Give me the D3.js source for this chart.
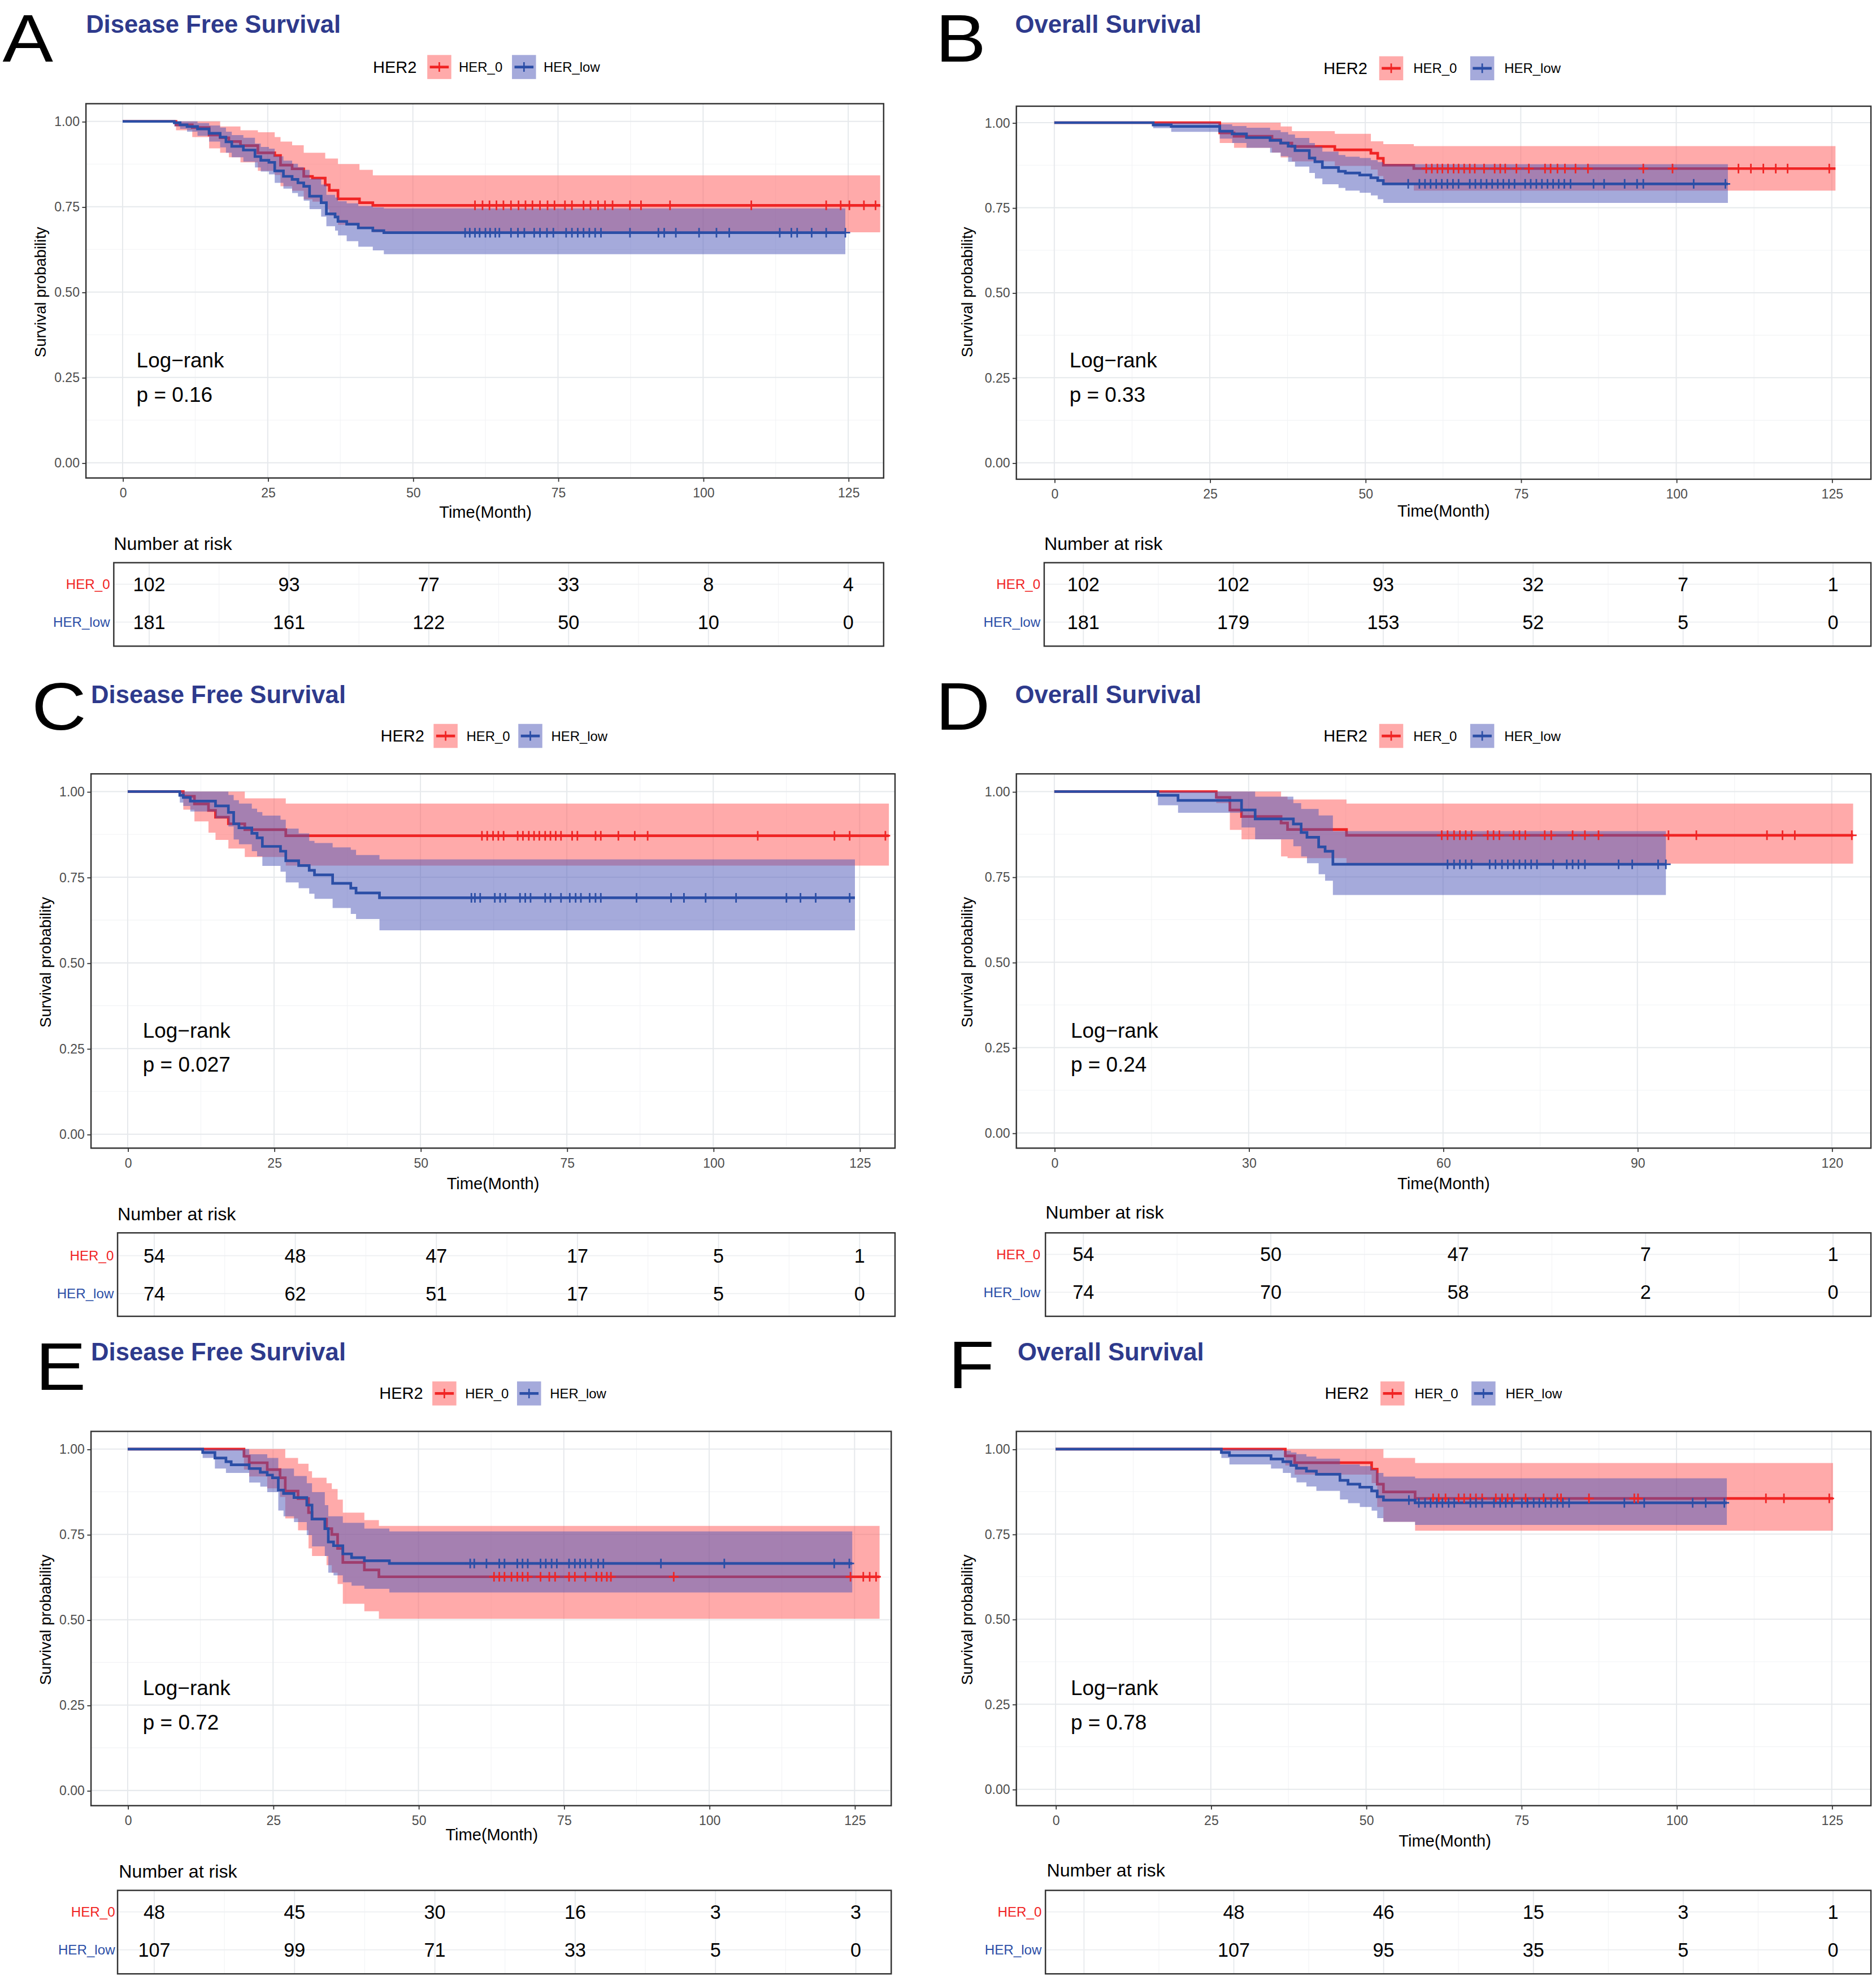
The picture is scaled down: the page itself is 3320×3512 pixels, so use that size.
<!DOCTYPE html>
<html><head><meta charset="utf-8">
<script src="https://cdn.jsdelivr.net/npm/d3@7"></script>
<style>body{margin:0;background:#fff}svg{display:block}</style>
</head><body>
<svg id="chart" width="3320" height="3512"></svg>
<script>
// ---------------- DATA ----------------
const panelLetters = ["A","B","C","D","E","F"];
const panelTitles = ["Disease Free Survival","Overall Survival","Disease Free Survival","Overall Survival","Disease Free Survival","Overall Survival"];
const pValues = ["0.16","0.33","0.027","0.24","0.72","0.78"];
const groupNames = ["HER_0","HER_low"];
const yTicks = [0,0.25,0.5,0.75,1];

const xTicks_A = [0,25,50,75,100,125];
const xTicks_B = [0,25,50,75,100,125];
const xTicks_C = [0,25,50,75,100,125];
const xTicks_D = [0,30,60,90,120];
const xTicks_E = [0,25,50,75,100,125];
const xTicks_F = [0,25,50,75,100,125];

const riskTimes_A = [0,25,50,75,100,125];
const riskHer0_A = [102,93,77,33,8,4];
const riskLow_A  = [181,161,122,50,10,0];
const riskTimes_B = [0,25,50,75,100,125];
const riskHer0_B = [102,102,93,32,7,1];
const riskLow_B  = [181,179,153,52,5,0];
const riskTimes_C = [0,25,50,75,100,125];
const riskHer0_C = [54,48,47,17,5,1];
const riskLow_C  = [74,62,51,17,5,0];
const riskTimes_D = [0,30,60,90,120];
const riskHer0_D = [54,50,47,7,1];
const riskLow_D  = [74,70,58,2,0];
const riskTimes_E = [0,25,50,75,100,125];
const riskHer0_E = [48,45,30,16,3,3];
const riskLow_E  = [107,99,71,33,5,0];
const riskTimes_F = [25,50,75,100,125];
const riskHer0_F = [48,46,15,3,1];
const riskLow_F  = [107,95,35,5,0];

// Kaplan-Meier steps: [time, survival, lower CI, upper CI]
const kmHer0_A = [[0,1,1,1],[9.2,0.99,0.974,1],[12,0.982,0.954,1],[14.9,0.96,0.921,1],[16.8,0.952,0.908,0.985],[18.3,0.941,0.895,0.985],[20.3,0.929,0.88,0.974],[23.3,0.908,0.855,0.968],[26.2,0.9,0.843,0.954],[27.2,0.872,0.81,0.941],[29.2,0.861,0.797,0.93],[31.2,0.839,0.772,0.908],[32.7,0.834,0.765,0.908],[34.9,0.814,0.742,0.891],[35.6,0.798,0.724,0.891],[37.1,0.773,0.697,0.875],[40.8,0.762,0.685,0.858],[43.1,0.754,0.675,0.842]];
const kmLow_A = [[0,1,1,1],[8.9,0.996,0.985,1],[9.9,0.99,0.978,1],[11.1,0.985,0.97,1],[12.9,0.978,0.958,0.995],[14.9,0.965,0.941,0.988],[16.8,0.954,0.924,0.982],[17.8,0.94,0.908,0.97],[18.8,0.927,0.895,0.96],[20.8,0.916,0.882,0.952],[22.8,0.897,0.865,0.935],[23.8,0.886,0.853,0.925],[25.2,0.88,0.845,0.92],[26.2,0.855,0.82,0.898],[27.7,0.839,0.803,0.885],[29.2,0.83,0.79,0.876],[30.2,0.82,0.78,0.866],[31.2,0.81,0.768,0.858],[32.2,0.781,0.743,0.832],[34.2,0.762,0.721,0.815],[35.1,0.729,0.693,0.785],[36.6,0.72,0.68,0.777],[37.1,0.707,0.666,0.766],[38.6,0.699,0.649,0.76],[40.6,0.688,0.633,0.752],[43.1,0.68,0.622,0.748],[45,0.674,0.611,0.745]];
const kmEnd_A = [130.5,124.5];
const censHer0_A = [60.7,62,63.2,64.4,65.6,66.9,68.2,69.4,70.6,71.9,73.2,74.4,76.2,77.4,79.4,80.6,81.9,83.1,84.4,87.4,89.3,94.3,108.3,121.2,123.7,125.2,127.7,129.7];
const censLow_A = [59,59.8,60.7,61.5,62.5,63.3,64.2,64.9,66.9,68.1,69.2,70.9,71.9,73.1,74.2,76.4,77.4,78.4,79.4,80.4,81.4,82.4,87.4,92.3,93.3,95.3,99.3,102.3,104.5,113.2,115.2,116.2,118.7,121.2,124.5];

const kmHer0_B = [[0,1,1,1],[26.6,0.97,0.94,1],[28.9,0.96,0.926,1],[35,0.95,0.912,1],[36.4,0.94,0.898,0.989],[38.2,0.93,0.886,0.975],[45.1,0.92,0.873,0.967],[50.9,0.91,0.862,0.945],[52,0.895,0.843,0.945],[52.9,0.875,0.82,0.937],[57.8,0.865,0.8,0.931]];
const kmLow_B = [[0,1,1,1],[15.9,0.993,0.984,1],[18.8,0.989,0.973,1],[26.6,0.975,0.953,0.995],[28.6,0.967,0.94,0.99],[30.9,0.956,0.926,0.985],[34.7,0.948,0.912,0.978],[36.4,0.94,0.901,0.972],[37.6,0.931,0.885,0.965],[38.7,0.918,0.871,0.955],[41,0.896,0.852,0.94],[41.9,0.885,0.836,0.93],[43.1,0.868,0.819,0.915],[45.7,0.857,0.808,0.905],[46.8,0.852,0.8,0.9],[49.1,0.846,0.794,0.896],[50.9,0.838,0.786,0.89],[52,0.83,0.775,0.884],[52.9,0.82,0.764,0.878]];
const kmEnd_B = [125.6,108.3];
const censHer0_B = [59.8,60.7,61.6,62.4,63.3,64.2,65,65.9,66.8,67.6,69.1,70.8,71.7,72.5,74.3,76.3,78.9,79.8,80.9,82.1,83.8,85.8,94.7,99.4,110,112,114,116,117.9,124.6];
const censLow_B = [56.9,58.7,59.6,60.5,61.4,62.3,63.2,64.1,65,66.8,67.7,68.6,69.5,70.4,71.3,72.2,73.1,74,75.7,76.6,77.5,78.4,79.3,80.2,81.1,82,83,86.7,88.4,91.7,93.7,94.7,102.8,107.9];

const kmHer0_C = [[0,1,1,1],[9.5,0.986,0.947,1],[11.4,0.964,0.913,1],[13.8,0.945,0.88,1],[15,0.925,0.859,1],[17.2,0.906,0.834,1],[20,0.889,0.809,0.98],[27,0.871,0.784,0.965]];
const kmLow_C = [[0,1,1,1],[8.9,0.989,0.968,1],[9.5,0.983,0.958,1],[10.7,0.972,0.942,1],[15,0.958,0.922,1],[17.2,0.939,0.898,0.99],[18.1,0.906,0.86,0.975],[19,0.894,0.846,0.965],[21.2,0.878,0.826,0.95],[22.1,0.865,0.811,0.94],[23,0.84,0.783,0.93],[26.1,0.826,0.766,0.918],[27,0.798,0.735,0.892],[29.2,0.784,0.718,0.878],[31,0.77,0.702,0.856],[31.9,0.757,0.687,0.85],[35,0.732,0.66,0.837],[38.1,0.718,0.643,0.83],[39,0.704,0.628,0.815],[43,0.69,0.595,0.802]];
const kmEnd_C = [130,124.2];
const censHer0_C = [60.5,61.4,62.4,63.3,64.2,66.6,67.5,68.5,69.4,70.3,71.3,72.2,73.1,74,75.9,76.8,79.9,80.8,83.8,86.6,88.8,107.6,120.7,123.3,129.4];
const censLow_C = [58.7,59.3,60.2,62.7,63.6,64.5,67,67.9,68.8,71.3,72.2,74,75.5,76.5,77.4,78.9,79.9,80.8,86.9,92.8,95,98.7,103.9,112.5,114.9,117.5,123.3];

const kmHer0_D = [[0,1,1,1],[25,0.983,0.966,1],[27.1,0.946,0.888,1],[28.9,0.927,0.86,1],[35,0.908,0.81,0.985],[36,0.889,0.805,0.977],[45.1,0.872,0.789,0.965]];
const kmLow_D = [[0,1,1,1],[16,0.989,0.96,1],[19.1,0.974,0.938,1],[28.9,0.946,0.895,1],[31,0.92,0.86,0.985],[36.9,0.905,0.84,0.966],[38.1,0.88,0.81,0.949],[39,0.866,0.79,0.949],[40.8,0.838,0.758,0.93],[41.8,0.825,0.739,0.93],[43,0.787,0.697,0.884]];
const kmEnd_D = [123.3,94.4];
const censHer0_D = [59.8,60.7,61.7,62.6,63.5,64.4,66.9,67.8,68.7,70.9,71.8,72.7,75.7,76.7,80,81.9,84,94.8,99.1,110,112.4,114.3,123.1];
const censLow_D = [60.7,61.7,62.6,63.5,64.4,67.2,68.1,69.1,70,70.9,71.8,72.7,73.6,74.5,77,79.1,80,80.9,81.9,87.1,89.2,93.2,94.4];

const kmHer0_E = [[0,1,1,1],[20,0.979,0.94,1],[20.9,0.96,0.92,1],[24,0.94,0.885,1],[26.2,0.916,0.86,1],[27.1,0.877,0.797,0.974],[29.3,0.855,0.762,0.957],[31.1,0.814,0.709,0.935],[31.7,0.795,0.687,0.916],[34.2,0.767,0.66,0.9],[35.1,0.75,0.638,0.883],[36.1,0.709,0.605,0.852],[37,0.668,0.547,0.814],[40.7,0.646,0.525,0.792],[43.2,0.626,0.503,0.775]];
const kmLow_E = [[0,1,1,1],[12.9,0.99,0.974,1],[15,0.974,0.943,1],[16.9,0.963,0.93,1],[17.8,0.954,0.93,1],[20.9,0.943,0.902,0.985],[22.8,0.932,0.89,0.985],[24,0.924,0.874,0.974],[24.9,0.916,0.874,0.974],[25.9,0.88,0.82,0.943],[26.8,0.87,0.803,0.943],[28.6,0.858,0.786,0.921],[30.8,0.836,0.748,0.9],[31.7,0.795,0.715,0.874],[33.9,0.767,0.687,0.836],[34.5,0.728,0.638,0.803],[35.4,0.717,0.63,0.803],[37,0.693,0.61,0.784],[38.5,0.682,0.6,0.784],[40.7,0.673,0.591,0.767],[45,0.665,0.58,0.759]];
const kmEnd_E = [129.3,124.6];
const censHer0_E = [63,63.9,64.8,66,67,67.9,68.8,71,72.5,73.5,75.9,76.9,78.7,80.6,81.5,82.4,83.1,93.9,124.3,126.5,127.6,128.7];
const censLow_E = [58.9,59.6,61.7,63.9,64.8,67,67.9,68.8,71,71.9,72.9,73.8,75.9,76.9,77.8,78.7,79.7,80.9,81.8,91.7,102.6,121.5,124.1];

const kmHer0_F = [[0,1,1,1],[37,0.98,0.952,1],[38.5,0.96,0.925,1],[50.9,0.941,0.9,1],[51.8,0.897,0.83,1],[52.8,0.874,0.786,0.974],[57.9,0.855,0.76,0.959]];
const kmLow_F = [[0,1,1,1],[26.7,0.99,0.974,1],[28,0.981,0.955,1],[34.7,0.971,0.943,1],[36.6,0.963,0.93,0.995],[37.9,0.952,0.916,0.99],[38.8,0.944,0.902,0.985],[40.4,0.935,0.89,0.978],[42,0.926,0.877,0.972],[45.8,0.908,0.852,0.955],[47.1,0.897,0.841,0.955],[49,0.888,0.83,0.95],[50.9,0.877,0.819,0.94],[51.8,0.86,0.797,0.93],[52.8,0.85,0.786,0.919],[57.9,0.842,0.777,0.914]];
const kmEnd_F = [125.2,108.1];
const censHer0_F = [60.8,61.7,62.8,64.9,65.8,66.8,67.7,68.7,70.9,71.9,72.8,73.8,75.7,78.6,80.8,81.4,85.9,93.2,93.8,114.4,117.3,124.6];
const censLow_F = [56.9,58.5,59.5,60.4,61.4,62.3,63.3,64.2,66.8,67.7,68.7,70.6,71.6,72.5,73.5,75.1,76,77,77.9,78.9,79.8,80.8,81.7,82.7,91.6,94.8,102.6,104.7,107.7];

const panelData = [
  {xTicks:xTicks_A, rt:riskTimes_A, r0:riskHer0_A, r1:riskLow_A, km0:kmHer0_A, km1:kmLow_A, end:kmEnd_A, c0:censHer0_A, c1:censLow_A},
  {xTicks:xTicks_B, rt:riskTimes_B, r0:riskHer0_B, r1:riskLow_B, km0:kmHer0_B, km1:kmLow_B, end:kmEnd_B, c0:censHer0_B, c1:censLow_B},
  {xTicks:xTicks_C, rt:riskTimes_C, r0:riskHer0_C, r1:riskLow_C, km0:kmHer0_C, km1:kmLow_C, end:kmEnd_C, c0:censHer0_C, c1:censLow_C},
  {xTicks:xTicks_D, rt:riskTimes_D, r0:riskHer0_D, r1:riskLow_D, km0:kmHer0_D, km1:kmLow_D, end:kmEnd_D, c0:censHer0_D, c1:censLow_D},
  {xTicks:xTicks_E, rt:riskTimes_E, r0:riskHer0_E, r1:riskLow_E, km0:kmHer0_E, km1:kmLow_E, end:kmEnd_E, c0:censHer0_E, c1:censLow_E},
  {xTicks:xTicks_F, rt:riskTimes_F, r0:riskHer0_F, r1:riskLow_F, km0:kmHer0_F, km1:kmLow_F, end:kmEnd_F, c0:censHer0_F, c1:censLow_F}
];

// ---------------- LAYOUT (reference units, scaled to canvas) ----------------
const layouts = [
 {letter:[2,48.5], title:[68,26], leg:{y:53,h2:295,k0:338,l0:363,k1:405,l1:430},
  box:[68,82,699,378], yt:[366,96], xt:[97,671], table:[90,445,699,511], tt:[118,671], rows:[462,492], rowX:87,
  nrisk:[90,430], xTitle:[384,405], yTitle:[32,231], lr:[108,285,312]},
 {letter:[740,48.5], title:[803,26], leg:{y:54,h2:1047,k0:1091,l0:1118,k1:1163,l1:1190},
  box:[804,84,1480,379], yt:[366,97], xt:[834,1449], table:[826,445,1480,511], tt:[857,1450], rows:[462,492], rowX:823,
  nrisk:[826,430], xTitle:[1142,404], yTitle:[765,231], lr:[846,285,312]},
 {letter:[25,577], title:[72,556], leg:{y:582,h2:301,k0:343,l0:369,k1:410,l1:436},
  box:[72,612,708,908], yt:[897,626], xt:[101,680], table:[93,975,708,1041], tt:[122,680], rows:[993,1023], rowX:90,
  nrisk:[93,960], xTitle:[390,936], yTitle:[36,761], lr:[113,815,842]},
 {letter:[740,577], title:[803,556], leg:{y:582,h2:1047,k0:1091,l0:1118,k1:1163,l1:1190},
  box:[804,612,1480,908], yt:[896,626], xt:[834,1449], table:[827,975,1480,1041], tt:[857,1450], rows:[992,1022], rowX:823,
  nrisk:[827,959], xTitle:[1142,936], yTitle:[765,761], lr:[847,815,842]},
 {letter:[28,1099], title:[72,1076], leg:{y:1102,h2:300,k0:342,l0:368,k1:409,l1:435},
  box:[72,1132,705,1428], yt:[1416,1146], xt:[101,676], table:[93,1495,705,1561], tt:[122,677], rows:[1512,1542], rowX:91,
  nrisk:[94,1480], xTitle:[389,1451], yTitle:[36,1281], lr:[113,1335,1362]},
 {letter:[750,1098], title:[805,1076], leg:{y:1102,h2:1048,k0:1092,l0:1119,k1:1164,l1:1191},
  box:[804,1132,1480,1428], yt:[1415,1146], xt:[835,1449], table:[827,1495,1480,1561], tt:[857.5,1450], rows:[1512,1542], rowX:824,
  nrisk:[828,1479], xTitle:[1143,1456], yTitle:[765,1281], lr:[847,1335,1362]}
];

const S = 3320/1484;
const FONT = "'Liberation Sans', Arial, Helvetica, sans-serif";
const LINE = ["#F02424","#2B4EA6"];
const FILL = ["#FF5555","#4B56B8"];
const FILL_OP = 0.5;
const TITLE_COL = "#2E3A8C";

const svg = d3.select("#chart");
svg.append("rect").attr("width",3320).attr("height",3512).attr("fill","#fff");
const root = svg.append("g").attr("transform",`scale(${S})`);

function stepAt(steps, t){ let v = steps[0]; for (const s of steps) if (s[0] <= t) v = s; return v; }
function plus(x, y, r){ return `M${x-r},${y}H${x+r}M${x},${y-r}V${y+r}`; }

function drawPanel(i){
  const L = layouts[i], D = panelData[i];
  const g = root.append("g");
  const txt = (x,y,s,size,opts={}) => g.append("text").attr("x",x).attr("y",y).text(s)
      .attr("font-family",FONT).attr("font-size",size)
      .attr("fill",opts.fill||"#000").attr("font-weight",opts.weight||"normal")
      .attr("text-anchor",opts.anchor||"start").attr("dominant-baseline",opts.base||"auto");

  g.append("g").attr("transform",`translate(${L.letter[0]},${L.letter[1]}) scale(1,0.885)`)
    .append("text").attr("x",0).attr("y",0).text(panelLetters[i])
    .attr("font-family",FONT).attr("font-size",60).attr("fill","#000");
  txt(L.title[0], L.title[1], panelTitles[i], 19.5, {weight:"bold", fill:TITLE_COL});

  // legend
  txt(L.leg.h2, L.leg.y, "HER2", 13, {base:"central"});
  [[L.leg.k0,L.leg.l0],[L.leg.k1,L.leg.l1]].forEach(([kx,lx],gi)=>{
    const ky = L.leg.y - 9.5;
    g.append("rect").attr("x",kx).attr("y",ky).attr("width",19).attr("height",19)
      .attr("fill",FILL[gi]).attr("fill-opacity",FILL_OP);
    g.append("line").attr("x1",kx+2).attr("x2",kx+17).attr("y1",L.leg.y).attr("y2",L.leg.y)
      .attr("stroke",LINE[gi]).attr("stroke-width",2.1);
    g.append("path").attr("d",plus(kx+9.5,L.leg.y,3.8)).attr("stroke",LINE[gi]).attr("stroke-width",1.2).attr("fill","none");
    txt(lx, L.leg.y, groupNames[gi], 10.7, {base:"central"});
  });

  // scales
  const [bx0,by0,bx1,by1] = L.box;
  const xMax = D.xTicks[D.xTicks.length-1];
  const x = d3.scaleLinear().domain([0,xMax]).range(L.xt);
  const y = d3.scaleLinear().domain([0,1]).range(L.yt);
  const step = D.xTicks[1]-D.xTicks[0];

  g.append("rect").attr("x",bx0).attr("y",by0).attr("width",bx1-bx0).attr("height",by1-by0).attr("fill","#fff");
  const xMinor = D.xTicks.map(t=>t+step/2).filter(t=>x(t)<bx1);
  const yMinor = [0.125,0.375,0.625,0.875];
  g.selectAll(null).data(xMinor).join("line").attr("x1",d=>x(d)).attr("x2",d=>x(d)).attr("y1",by0).attr("y2",by1)
    .attr("stroke","#F2F3F5").attr("stroke-width",0.5);
  g.selectAll(null).data(yMinor).join("line").attr("y1",d=>y(d)).attr("y2",d=>y(d)).attr("x1",bx0).attr("x2",bx1)
    .attr("stroke","#F2F3F5").attr("stroke-width",0.5);
  g.selectAll(null).data(D.xTicks).join("line").attr("x1",d=>x(d)).attr("x2",d=>x(d)).attr("y1",by0).attr("y2",by1)
    .attr("stroke","#E6E9EC").attr("stroke-width",0.9);
  g.selectAll(null).data(yTicks).join("line").attr("y1",d=>y(d)).attr("y2",d=>y(d)).attr("x1",bx0).attr("x2",bx1)
    .attr("stroke","#E6E9EC").attr("stroke-width",0.9);

  const clipId = "clip"+i;
  g.append("clipPath").attr("id",clipId).append("rect").attr("x",bx0).attr("y",by0).attr("width",bx1-bx0).attr("height",by1-by0);
  const plot = g.append("g").attr("clip-path",`url(#${clipId})`);

  const area = d3.area().curve(d3.curveStepAfter).x(d=>x(d[0])).y0(d=>y(d[2])).y1(d=>y(d[3]));
  const line = d3.line().curve(d3.curveStepAfter).x(d=>x(d[0])).y(d=>y(d[1]));
  const curves = [D.km0, D.km1];
  curves.forEach((km,gi)=>{
    const last = km[km.length-1];
    const pts = km.concat([[D.end[gi], last[1], last[2], last[3]]]);
    plot.append("path").attr("d",area(pts)).attr("fill",FILL[gi]).attr("fill-opacity",FILL_OP).attr("stroke","none");
    plot.append("path").attr("d",line(pts)).attr("fill","none").attr("stroke",LINE[gi]).attr("stroke-width",2.1);
  });
  [D.c0, D.c1].forEach((cens,gi)=>{
    plot.append("path").attr("d", cens.map(t=>plus(x(t), y(stepAt(curves[gi],t)[1]), 3.8)).join(""))
      .attr("stroke",LINE[gi]).attr("stroke-width",1.25).attr("fill","none");
  });

  g.append("rect").attr("x",bx0).attr("y",by0).attr("width",bx1-bx0).attr("height",by1-by0)
    .attr("fill","none").attr("stroke","#333").attr("stroke-width",1.1);

  // axes
  const ay = g.append("g").attr("transform",`translate(${bx0},0)`)
    .call(d3.axisLeft(y).tickValues(yTicks).tickFormat(d3.format(".2f")).tickSize(3).tickPadding(2));
  const ax = g.append("g").attr("transform",`translate(0,${by1})`)
    .call(d3.axisBottom(x).tickValues(D.xTicks).tickFormat(d3.format("d")).tickSize(3).tickPadding(5));
  [ax,ay].forEach(a=>{
    a.select(".domain").remove();
    a.selectAll(".tick line").attr("stroke","#333").attr("stroke-width",0.8);
    a.selectAll(".tick text").attr("font-family",FONT).attr("font-size",10.3).attr("fill","#4D4D4D");
  });

  txt(L.xTitle[0], L.xTitle[1], "Time(Month)", 13, {anchor:"middle", base:"central"});
  g.append("text").attr("transform",`translate(${L.yTitle[0]},${L.yTitle[1]}) rotate(-90)`)
    .text("Survival probability").attr("font-family",FONT).attr("font-size",12.3)
    .attr("text-anchor","middle").attr("dominant-baseline","central");

  txt(L.lr[0], L.lr[1], "Log\u2212rank", 16.5, {base:"central"});
  txt(L.lr[0], L.lr[2], "p = " + pValues[i], 16.5, {base:"central"});

  // risk table
  const [tx0,ty0,tx1,ty1] = L.table;
  const tx = d3.scaleLinear().domain([0,xMax]).range(L.tt);
  txt(L.nrisk[0], L.nrisk[1], "Number at risk", 14.4, {base:"central"});
  g.selectAll(null).data(D.xTicks.map(t=>t+step/2).filter(t=>tx(t)<tx1)).join("line")
    .attr("x1",d=>tx(d)).attr("x2",d=>tx(d)).attr("y1",ty0).attr("y2",ty1).attr("stroke","#F2F3F5").attr("stroke-width",0.5);
  g.selectAll(null).data(D.xTicks).join("line")
    .attr("x1",d=>tx(d)).attr("x2",d=>tx(d)).attr("y1",ty0).attr("y2",ty1).attr("stroke","#E6E9EC").attr("stroke-width",0.8);
  g.selectAll(null).data(L.rows).join("line")
    .attr("x1",tx0).attr("x2",tx1).attr("y1",d=>d).attr("y2",d=>d).attr("stroke","#EDEFF1").attr("stroke-width",0.8);
  g.append("rect").attr("x",tx0).attr("y",ty0).attr("width",tx1-tx0).attr("height",ty1-ty0)
    .attr("fill","none").attr("stroke","#333").attr("stroke-width",1.1);
  [D.r0, D.r1].forEach((vals,gi)=>{
    g.selectAll(null).data(vals).join("text")
      .attr("x",(d,j)=>tx(D.rt[j])).attr("y",L.rows[gi]).text(d=>d)
      .attr("font-family",FONT).attr("font-size",15.3).attr("text-anchor","middle").attr("dominant-baseline","central");
    txt(L.rowX, L.rows[gi], groupNames[gi], 10.8, {anchor:"end", base:"central", fill:LINE[gi]});
  });
}

for (let i=0;i<6;i++) drawPanel(i);
</script>
</body></html>
